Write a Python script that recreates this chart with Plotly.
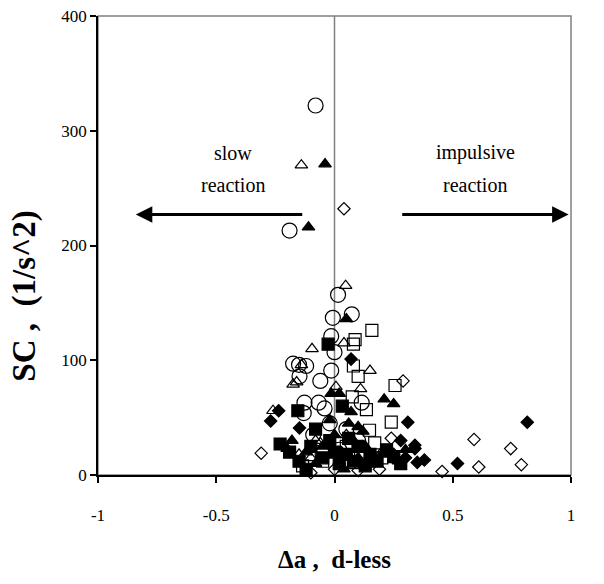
import plotly.graph_objects as go

# Δa (dimensionless) versus SC (1/s^2), grouped by marker style
open_circle_x = [-0.08, -0.19, 0.015, -0.007, 0.073, -0.014, 0.0, -0.15, -0.12, -0.175, -0.014, -0.148,
                 -0.06, -0.127, -0.067, -0.042, 0.115, -0.13, -0.02, 0.05, -0.09, 0.1, 0.02, -0.05]
open_circle_y = [322, 213, 157, 137, 140, 121, 107, 96, 95, 97, 91, 86,
                 82, 63, 63, 58, 63, 54, 45, 40, 35, 30, 22, 18]

open_triangle_x = [-0.14, 0.047, -0.095, 0.04, 0.15, -0.14, -0.16, -0.175, 0.006, 0.11, -0.26, -0.08,
                   -0.06, 0.05, 0.12, -0.1, 0.02, 0.2, -0.15, 0.08]
open_triangle_y = [270, 165, 110, 115, 91, 96, 81, 79, 77, 75, 56, 30,
                   28, 35, 25, 15, 12, 20, 18, 8]

filled_triangle_x = [-0.04, -0.11, 0.05, -0.014, 0.02, 0.21, 0.25, -0.2, -0.18, -0.12, -0.05, 0.0,
                     0.03, 0.06, 0.08, 0.1, 0.13, 0.16, 0.2, 0.27, -0.08, 0.04, 0.12, -0.02,
                     0.07, 0.3, 0.1]
filled_triangle_y = [271, 216, 136, 71, 71, 66, 62, 23, 30, 20, 25, 35,
                     20, 45, 30, 15, 25, 10, 18, 12, 10, 5, 38, 48,
                     55, 22, 42]

open_square_x = [0.158, 0.087, 0.08, 0.08, 0.1, 0.256, 0.075, 0.135, 0.24, 0.148, -0.135, 0.05,
                 0.17, 0.2, -0.05, 0.11]
open_square_y = [126, 118, 114, 95, 86, 78, 68, 57, 46, 39, 8, 25,
                 28, 15, 12, 20]

filled_square_x = [-0.027, 0.033, -0.155, -0.23, -0.19, -0.15, -0.1, -0.05, -0.02, 0.02, 0.05, 0.08,
                   0.1, 0.13, 0.15, 0.18, 0.22, 0.25, 0.28, -0.08, 0.06, -0.12, 0.0]
filled_square_y = [114, 60, 56, 27, 20, 12, 25, 15, 30, 10, 18, 12,
                   25, 8, 18, 12, 22, 16, 10, 40, 32, 5, 20]

open_diamond_x = [0.04, 0.29, 0.24, -0.31, -0.1, 0.19, 0.455, 0.61, 0.59, 0.745, 0.79, 0.0, 0.1]
open_diamond_y = [232, 82, 32, 19, 2, 5, 3, 7, 31, 23, 9, 5, 4]

filled_diamond_x = [0.07, -0.236, -0.27, -0.148, 0.31, 0.815, 0.34, 0.38, 0.52, 0.34, 0.35, 0.28,
                    0.25, 0.3]
filled_diamond_y = [101, 56, 47, 41, 46, 46, 26, 13, 10, 23, 11, 30,
                    18, 15]

x_ticks = [-1, -0.5, 0, 0.5, 1]
x_tick_labels = ["-1", "-0.5", "0", "0.5", "1"]
y_ticks = [0, 100, 200, 300, 400]
y_tick_labels = ["0", "100", "200", "300", "400"]

SERIF = "Liberation Serif, Times New Roman, serif"
NBSP = "\u00a0"

series = [
    (open_circle_x, open_circle_y, "circle-open", 15),
    (open_triangle_x, open_triangle_y, "triangle-up-open", 11),
    (open_square_x, open_square_y, "square-open", 12),
    (open_diamond_x, open_diamond_y, "diamond-open", 9.5),
    (filled_triangle_x, filled_triangle_y, "triangle-up", 11),
    (filled_square_x, filled_square_y, "square", 12),
    (filled_diamond_x, filled_diamond_y, "diamond", 9.5),
]

fig = go.Figure()
for xs, ys, sym, size in series:
    fig.add_trace(go.Scatter(
        x=xs, y=ys, mode="markers", cliponaxis=False, showlegend=False,
        marker=dict(symbol=sym, size=size, color="black",
                    line=dict(color="black", width=1.2)),
    ))

# vertical reference line at Δa = 0
fig.add_shape(type="line", xref="x", yref="y", x0=0, x1=0, y0=-17, y1=400,
              line=dict(color="#808080", width=1.5), layer="below")
# plot frame
fig.add_shape(type="rect", xref="paper", yref="paper", x0=0, x1=1, y0=0, y1=1,
              line=dict(color="#808080", width=1.5), layer="below")

# direction arrows
arrow_y = 227
fig.add_annotation(x=-0.84, y=arrow_y, ax=-0.13, ay=arrow_y, axref="x", ayref="y",
                   xref="x", yref="y", text="", showarrow=True,
                   arrowhead=2, arrowsize=1.1, arrowwidth=3, arrowcolor="black")
fig.add_annotation(x=0.99, y=arrow_y, ax=0.28, ay=arrow_y, axref="x", ayref="y",
                   xref="x", yref="y", text="", showarrow=True,
                   arrowhead=2, arrowsize=1.1, arrowwidth=3, arrowcolor="black")

label_font = dict(family=SERIF, size=20, color="black")
fig.add_annotation(x=-0.43, y=281, xref="x", yref="y", text="slow",
                   showarrow=False, font=label_font)
fig.add_annotation(x=-0.43, y=253, xref="x", yref="y", text="reaction",
                   showarrow=False, font=label_font)
fig.add_annotation(x=0.595, y=281, xref="x", yref="y", text="impulsive",
                   showarrow=False, font=label_font)
fig.add_annotation(x=0.595, y=253, xref="x", yref="y", text="reaction",
                   showarrow=False, font=label_font)

# axis titles
fig.add_annotation(x=0.5, y=-0.185, xref="paper", yref="paper",
                   xanchor="center", yanchor="middle",
                   text="<b>Δa ," + NBSP * 2 + "d-less</b>",
                   showarrow=False, font=dict(family=SERIF, size=25, color="black"))
fig.add_annotation(x=-0.155, y=0.39, xref="paper", yref="paper",
                   xanchor="center", yanchor="middle",
                   text="<b>SC ," + NBSP * 2 + "(1/s^2)</b>",
                   textangle=-90, showarrow=False,
                   font=dict(family=SERIF, size=33, color="black"))

fig.update_xaxes(range=[-1, 1], tickvals=x_ticks, ticktext=x_tick_labels,
                 showgrid=False, zeroline=False, showline=True, linecolor="black", linewidth=1.5,
                 ticks="outside", ticklen=6, tickcolor="black", tickwidth=1.5,
                 ticklabelstandoff=18,
                 tickfont=dict(family=SERIF, size=17, color="black"), automargin=False)
fig.update_yaxes(range=[0, 400], tickvals=y_ticks, ticktext=y_tick_labels,
                 showgrid=False, zeroline=False, showline=True, linecolor="black", linewidth=1.5,
                 ticks="outside", ticklen=6, tickcolor="black", tickwidth=1.5,
                 tickfont=dict(family=SERIF, size=17, color="black"), automargin=False)

fig.update_layout(width=604, height=584, margin=dict(l=98, r=33, t=16, b=109),
                  paper_bgcolor="white", plot_bgcolor="white")

fig.write_html("out.html")
